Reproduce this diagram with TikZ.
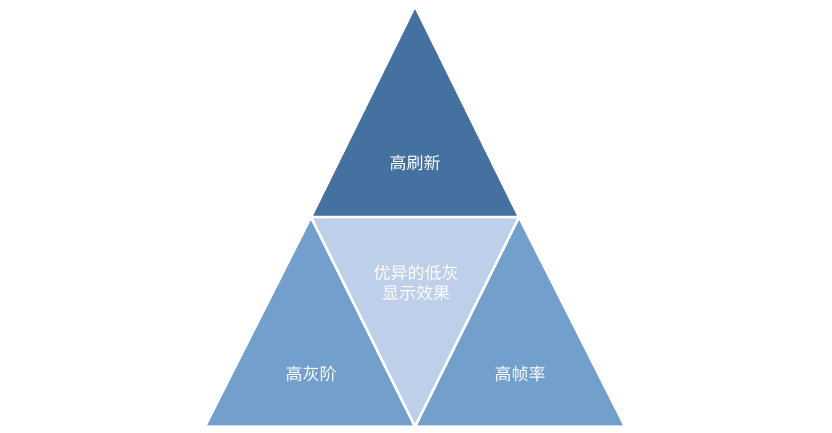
\documentclass[tikz,border=0pt]{standalone}
\usepackage{fontspec}
\newfontfamily\cjk{Noto Sans CJK SC}
\usepackage{tikz}
\usetikzlibrary{
    positioning,
    calc
}
\definecolor{topblue}{HTML}{44719F}
\definecolor{sideblue}{HTML}{729FCC}
\definecolor{midblue}{HTML}{BDCFE9}
\tikzset{
  face/.style = {
      draw=white,
      line width=2.5pt,
      line join=miter
  },
  caption/.style = {
      font=\cjk\fontsize{17}{20}\selectfont,
      text=white,
      align=center,
      inner sep=0pt
  }
}

\begin{document}
\begin{tikzpicture}[x=1pt, y=1pt]
    \useasboundingbox[fill=white] (0,0) rectangle (832,432);
    % Corners
    \coordinate (apex) at (415,426);
    \coordinate (ml) at (311,215);
    \coordinate (mr) at (519,215);
    \coordinate (bl) at (205,5.5);
    \coordinate (bm) at (415,5.5);
    \coordinate (br) at (625,5.5);
    % Faces
    \path[face, fill=topblue] (apex) -- (ml) -- (mr) -- cycle;
    \path[face, fill=sideblue] (ml) -- (bl) -- (bm) -- cycle;
    \path[face, fill=sideblue] (mr) -- (bm) -- (br) -- cycle;
    \path[face, fill=midblue] (ml) -- (mr) -- (bm) -- cycle;
    % Labels
    \node[caption] (refresh) at (415,269) {高刷新};
    \node[caption] (low) at (416,149) {优异的低灰\\显示效果};
    \node[caption] (gray) at (311,58) {高灰阶};
    \node[caption] (frame) at (520,58) {高帧率};
\end{tikzpicture}
\end{document}
